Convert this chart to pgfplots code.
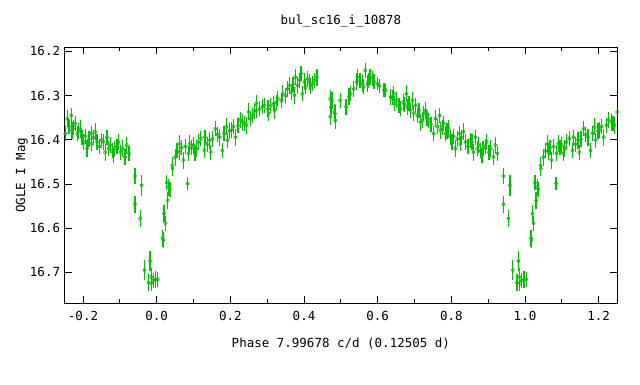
\documentclass[border=0pt]{standalone}
\usepackage{pgfplots}
\pgfplotsset{compat=1.18}
\usepackage{pgfplotstable}
\usepackage{fontspec}
\setmainfont{DejaVu Sans Mono}
\definecolor{gpgreen}{RGB}{0,192,0}
\pgfplotstableread{
p m e
0.003 16.716 0.010
0.016 16.623 0.012
0.018 16.627 0.010
0.020 16.567 0.012
0.023 16.589 0.010
0.027 16.497 0.010
0.030 16.537 0.012
0.033 16.507 0.012
0.036 16.512 0.010
0.042 16.458 0.012
0.043 16.465 0.010
0.050 16.439 0.012
0.055 16.425 0.010
0.061 16.409 0.012
0.063 16.428 0.010
0.068 16.418 0.010
0.072 16.446 0.012
0.078 16.415 0.010
0.084 16.499 0.008
0.086 16.431 0.010
0.090 16.409 0.012
0.095 16.418 0.010
0.100 16.412 0.010
0.104 16.431 0.010
0.108 16.420 0.012
0.113 16.405 0.010
0.120 16.397 0.010
0.129 16.424 0.010
0.131 16.394 0.010
0.137 16.410 0.010
0.144 16.401 0.012
0.147 16.428 0.010
0.152 16.398 0.010
0.159 16.375 0.010
0.165 16.388 0.010
0.171 16.394 0.012
0.178 16.424 0.010
0.183 16.385 0.010
0.189 16.371 0.012
0.192 16.401 0.010
0.198 16.380 0.010
0.203 16.378 0.010
0.208 16.370 0.010
0.214 16.394 0.012
0.221 16.367 0.010
0.227 16.355 0.010
0.234 16.360 0.012
0.239 16.363 0.010
0.243 16.367 0.012
0.250 16.337 0.012
0.255 16.352 0.010
0.261 16.345 0.010
0.265 16.335 0.010
0.270 16.318 0.012
0.272 16.333 0.010
0.280 16.330 0.010
0.287 16.325 0.010
0.293 16.322 0.010
0.302 16.330 0.012
0.304 16.341 0.010
0.310 16.322 0.010
0.318 16.318 0.010
0.320 16.333 0.012
0.325 16.315 0.010
0.329 16.307 0.010
0.338 16.311 0.010
0.342 16.296 0.012
0.350 16.300 0.010
0.355 16.285 0.010
0.360 16.277 0.012
0.365 16.292 0.010
0.370 16.275 0.010
0.374 16.299 0.012
0.376 16.258 0.010
0.383 16.277 0.012
0.388 16.265 0.010
0.392 16.250 0.010
0.395 16.296 0.010
0.401 16.269 0.012
0.405 16.280 0.010
0.410 16.262 0.010
0.414 16.269 0.010
0.418 16.278 0.010
0.423 16.273 0.010
0.428 16.265 0.010
0.435 16.258 0.012
0.471 16.307 0.012
0.473 16.326 0.010
0.471 16.348 0.012
0.476 16.311 0.012
0.482 16.337 0.010
0.484 16.341 0.012
0.485 16.356 0.012
0.498 16.311 0.010
0.514 16.326 0.010
0.522 16.303 0.012
0.527 16.296 0.010
0.535 16.285 0.010
0.543 16.269 0.012
0.545 16.258 0.010
0.552 16.265 0.010
0.559 16.273 0.012
0.562 16.280 0.010
0.566 16.243 0.010
0.572 16.273 0.012
0.575 16.265 0.010
0.579 16.258 0.010
0.585 16.262 0.010
0.590 16.268 0.010
0.599 16.273 0.008
0.605 16.278 0.008
0.617 16.287 0.008
0.622 16.288 0.008
0.635 16.303 0.010
0.640 16.305 0.010
0.644 16.296 0.010
0.646 16.318 0.010
0.652 16.310 0.010
0.658 16.322 0.010
0.662 16.330 0.010
0.669 16.315 0.012
0.673 16.320 0.010
0.678 16.296 0.012
0.680 16.326 0.010
0.685 16.318 0.010
0.689 16.333 0.010
0.694 16.311 0.012
0.698 16.340 0.010
0.703 16.322 0.010
0.708 16.345 0.010
0.712 16.333 0.010
0.716 16.360 0.012
0.721 16.356 0.010
0.725 16.340 0.010
0.730 16.333 0.012
0.734 16.352 0.010
0.739 16.356 0.010
0.745 16.365 0.010
0.752 16.386 0.010
0.757 16.352 0.012
0.762 16.370 0.010
0.768 16.345 0.010
0.770 16.378 0.012
0.775 16.372 0.010
0.779 16.363 0.010
0.784 16.386 0.010
0.788 16.380 0.010
0.793 16.375 0.012
0.797 16.394 0.010
0.802 16.405 0.010
0.806 16.392 0.010
0.811 16.420 0.012
0.816 16.398 0.010
0.822 16.386 0.010
0.824 16.409 0.010
0.828 16.395 0.010
0.833 16.382 0.012
0.838 16.405 0.010
0.845 16.415 0.010
0.851 16.401 0.010
0.856 16.405 0.010
0.860 16.428 0.012
0.865 16.394 0.010
0.870 16.420 0.010
0.874 16.412 0.010
0.879 16.425 0.010
0.883 16.435 0.010
0.886 16.420 0.010
0.892 16.415 0.010
0.896 16.405 0.010
0.902 16.428 0.010
0.907 16.420 0.012
0.914 16.439 0.010
0.919 16.412 0.012
0.925 16.431 0.010
0.941 16.482 0.010
0.941 16.546 0.012
0.955 16.578 0.012
0.959 16.503 0.016
0.967 16.695 0.015
0.978 16.723 0.012
0.982 16.674 0.015
0.985 16.710 0.012
0.986 16.725 0.010
0.991 16.718 0.010
0.997 16.716 0.012
}\data
\begin{document}
\begin{tikzpicture}
\path[use as bounding box] (0pt,0pt) rectangle (640pt,384pt);
\begin{axis}[at={(64.6pt,80.7pt)}, anchor=south west, scale only axis,
  width=552.5pt, height=256.3pt,
  xmin=-0.25, xmax=1.25, ymin=16.19, ymax=16.77, y dir=reverse,
  xtick={-0.2,0,0.2,0.4,0.6,0.8,1.0,1.2},
  minor xtick={-0.1,0.1,0.3,0.5,0.7,0.9,1.1},
  ytick={16.2,16.3,16.4,16.5,16.6,16.7},
  tick align=inside, major tick length=7pt, minor tick length=4pt,
  tick style={black, line width=0.8pt},
  axis line style={black, line width=0.8pt},
  /pgf/number format/assume math mode=true,
  /pgf/number format/.cd, fixed, fixed zerofill, precision=1, /pgfplots/.cd,
  tick label style={font=\fontsize{12.5}{14}\selectfont},
  xticklabel style={yshift=-4pt},
  yticklabel style={xshift=-1pt},
  label style={font=\fontsize{12.5}{14}\selectfont},
  xlabel={Phase 7.99678 c/d (0.12505 d)},
  xlabel style={at={(axis description cs:0.5,0)}, anchor=center, yshift=-40pt},
  ylabel={OGLE I Mag},
  ylabel style={at={(axis description cs:-0.0775,0.5)}, anchor=center},
  title={bul\_sc16\_i\_10878},
  title style={font=\fontsize{12.5}{14}\selectfont, at={(axis description cs:0.5,1)}, anchor=center, yshift=20pt},
  clip=true,
]
\pgfplotsset{gpstyle/.style={gpgreen, only marks, mark=diamond, mark size=2pt,
  mark options={gpgreen, line width=0.7pt},
  error bars/.cd, y dir=both, y explicit,
  error bar style={gpgreen, line width=1.2pt},
  error mark options={gpgreen, mark size=3.2pt, line width=1.2pt}}}
\addplot[gpstyle] table[x expr=\thisrow{p}-1, y=m, y error=e]{\data};
\addplot[gpstyle] table[x=p, y=m, y error=e]{\data};
\addplot[gpstyle] table[x expr=\thisrow{p}+1, y=m, y error=e]{\data};
\end{axis}
\end{tikzpicture}
\end{document}
